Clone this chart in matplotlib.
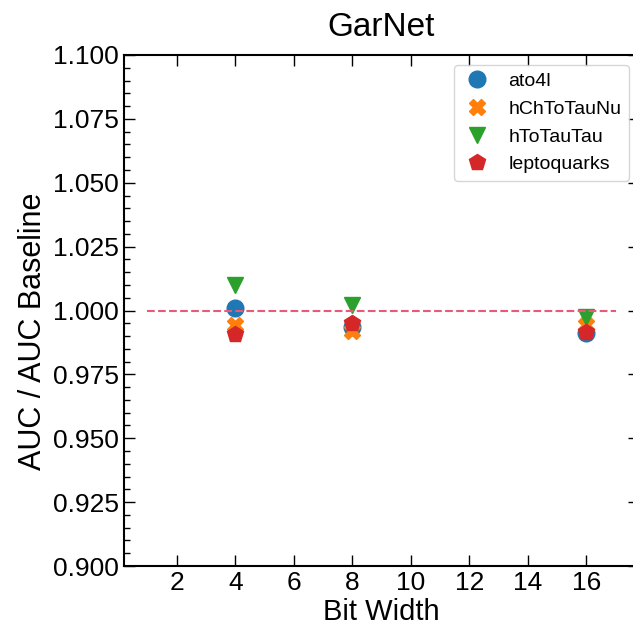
import numpy as np
import matplotlib.pyplot as plt
from matplotlib.ticker import AutoMinorLocator, FormatStrFormatter

plt.rcParams['font.family'] = ['Liberation Sans', 'DejaVu Sans']

bit_widths = [4, 8, 16]
ato4l = [1.001, 0.9935, 0.991]
hChToTauNu = [0.9943, 0.9918, 0.9943]
hToTauTau = [1.010, 1.0022, 0.9975]
leptoquarks = [0.9908, 0.9951, 0.9916]

fig = plt.figure(figsize=(6.33, 6.26), dpi=100)
ax = fig.add_axes([124 / 633, 1 - 566 / 626, 515 / 633, 511 / 626])

ax.plot(bit_widths, ato4l, 'o', color='#1f77b4', markersize=12, label='ato4l')
ax.plot(bit_widths, hChToTauNu, 'X', color='#ff7f0e', markersize=12, label='hChToTauNu')
ax.plot(bit_widths, hToTauTau, 'v', color='#2ca02c', markersize=12, label='hToTauTau')
ax.plot(bit_widths, leptoquarks, 'p', color='#d62728', markersize=12, label='leptoquarks')
ax.hlines(1.0, 1, 17, colors='#e85a78', linestyles='--', linewidth=1.5)

ax.set_ylim(0.9, 1.1)
ax.set_xticks([2, 4, 6, 8, 10, 12, 14, 16])
ax.yaxis.set_major_formatter(FormatStrFormatter('%.3f'))
ax.yaxis.set_minor_locator(AutoMinorLocator(5))
ax.tick_params(which='both', direction='in', top=True, right=True, labelsize=19)
ax.tick_params(which='major', length=8, width=1)
ax.tick_params(which='minor', length=4, width=1)
for s in ax.spines.values():
    s.set_linewidth(1.5)

ax.set_title('GarNet', fontsize=24, pad=14)
ax.set_xlabel('Bit Width', fontsize=21, labelpad=2)
ax.set_ylabel('AUC / AUC Baseline', fontsize=22)
ax.yaxis.set_label_coords(-0.148, 0.46)
ax.legend(loc='upper right', fontsize=14, borderaxespad=0.5, handlelength=1.6,
          handletextpad=0.8, labelspacing=0.52)

fig.savefig('out.png', dpi=100)
